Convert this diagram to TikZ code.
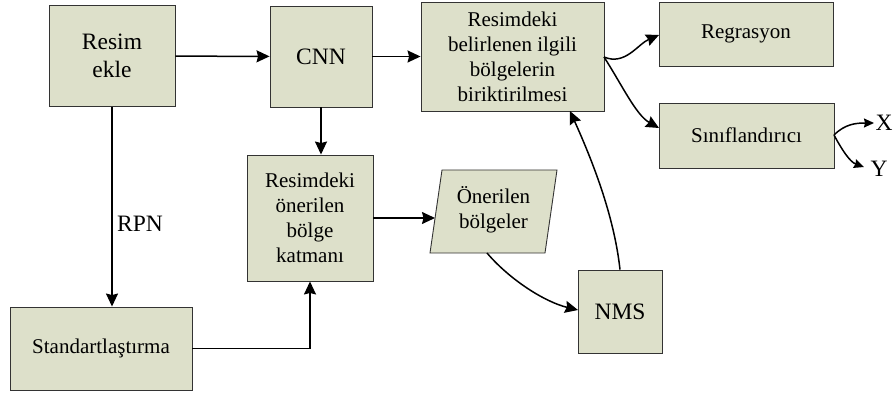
\documentclass[tikz,border=0pt]{standalone}
\usepackage{fontspec}
\setmainfont{Liberation Serif}
\newfontfamily\tnr{Liberation Serif}
\usetikzlibrary{arrows.meta,calc}
\definecolor{boxfill}{RGB}{221,224,202}
\begin{document}
\begin{tikzpicture}[x=1pt,y=-1pt,
  box/.style={draw=black!80,line width=0.9pt,fill=boxfill,inner sep=0pt,align=center,
    font=\tnr\fontsize{21}{25}\selectfont},
  big/.style={font=\tnr\fontsize{23.5}{28}\selectfont},
  arr/.style={-{Stealth[length=13pt,width=12pt,inset=1.5pt]},line width=1.5pt},
  sarr/.style={-{Stealth[length=10pt,width=9pt,inset=1pt]},line width=1.5pt},
  lbl/.style={font=\tnr\fontsize{21}{25}\selectfont,inner sep=0pt}]
\useasboundingbox (0,0) rectangle (895,393);
% boxes
\node[box,big,minimum width=126pt,minimum height=101pt] (resim) at (112,56) {Resim\\ekle};
\node[box,big,minimum width=102pt,minimum height=101pt] (cnn) at (321,56.5) {CNN};
\node[box,minimum width=183pt,minimum height=109pt] (bigbox) at (512.5,56.5) {Resimdeki\\belirlenen ilgili\\bölgelerin\\biriktirilmesi};
\node[box,minimum width=174pt,minimum height=64pt] (reg) at (746,34) {Regrasyon};
\node[box,minimum width=175pt,minimum height=65pt] (sin) at (746.5,135.5) {Sınıflandırıcı};
\node[box,minimum width=126pt,minimum height=126pt] (oner) at (310,218) {Resimdeki\\önerilen\\bölge\\katmanı};
\node[box,minimum width=182pt,minimum height=83pt] (std) at (101,348.5) {Standartlaştırma};
\node[box,big,minimum width=84pt,minimum height=83pt] (nms) at (620,311.5) {NMS};
% parallelogram
\coordinate (pbl) at (430,253);
\coordinate (ptl) at (442,170);
\coordinate (ptr) at (557,170);
\coordinate (pbr) at (545,253);
\draw[draw=black!80,line width=0.9pt,fill=boxfill] (pbl) -- (ptl) -- (ptr) -- (pbr) -- cycle;
\node[lbl,align=center] (par) at (493.5,210) {Önerilen\\bölgeler};
\coordinate (pin) at (435,218);
\coordinate (pout) at (487,253);
% labels
\node[lbl,big] (rpn) at (140,224) {RPN};
\node[lbl,big] (xl) at (884,123) {X};
\node[lbl,big] (yl) at (879,169) {Y};
\coordinate (xe) at (874,123);
\coordinate (ye) at (864,167);
% connectors
\draw[arr] (resim) -- (cnn);
\draw[arr] (cnn) -- (bigbox);
\draw[arr] (cnn.south) -- (cnn.south |- oner.north);
\draw[arr] (resim.south) -- (resim.south |- std.north);
\draw[arr] (std.east) -| (oner.south);
\draw[arr] (oner.east |- pin) -- (pin);
\coordinate (bo) at (604,57);
\coordinate (regin) at (659,35);
\coordinate (sinin) at (659,128);
\draw[arr] (bo) .. controls (625,66) and (638,44) .. (regin);
\draw[arr] (bo) .. controls (622,85) and (636,115) .. (sinin);
\coordinate (so) at (834,135);
\draw[sarr] (so) .. controls (845,124) and (856,123) .. (xe);
\draw[sarr] (so) .. controls (842,150) and (850,162) .. (ye);
\coordinate (nmsin) at (578,310);
\draw[arr] (pout) .. controls (510,280) and (545,302) .. (nmsin);
\coordinate (bigin) at (570,111);
\draw[arr] (nms.north) .. controls (614,215) and (592,160) .. (bigin);
\end{tikzpicture}
\end{document}
